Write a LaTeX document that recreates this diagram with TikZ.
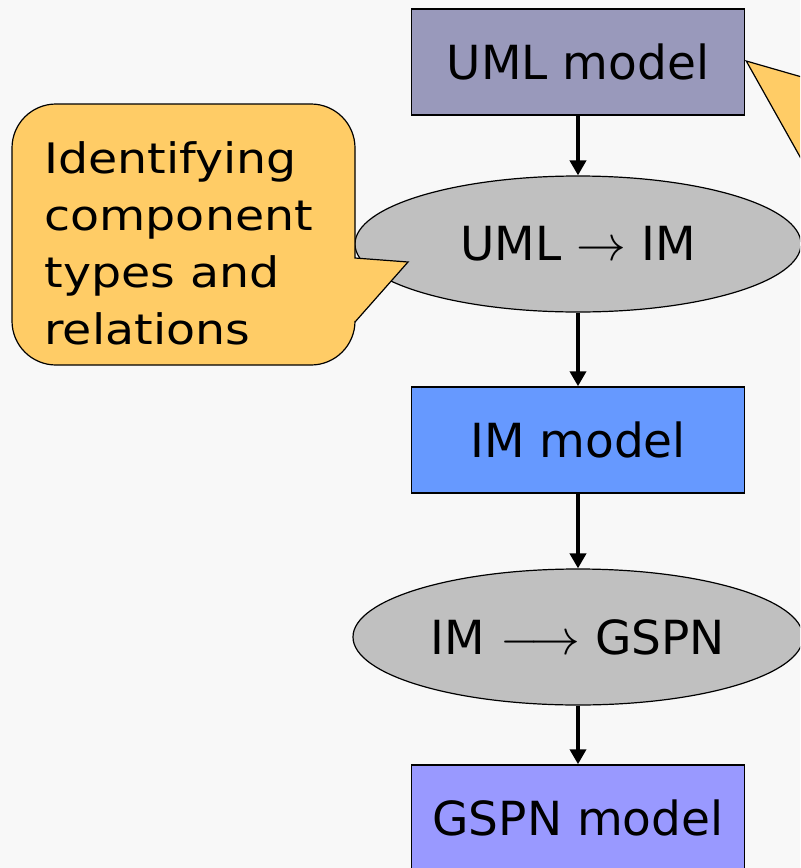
\documentclass[tikz,border=0pt]{standalone}
\usepackage{fontspec}
\setmainfont{DejaVu Sans}
\usepackage{tikz}
\usetikzlibrary{shapes.geometric,arrows.meta}

\definecolor{umlfill}{HTML}{9999BB}
\definecolor{imfill}{HTML}{6699FF}
\definecolor{gspnfill}{HTML}{9999FF}
\definecolor{stepfill}{HTML}{C0C0C0}
\definecolor{notefill}{HTML}{FFCC66}
\definecolor{bgfill}{HTML}{F8F8F8}

\tikzset{
	model/.style={draw, line width=0.75pt, minimum width=166.5pt, minimum height=53pt, font=\fontsize{23.5}{28}\selectfont},
	trans/.style={draw, ellipse, fill=stepfill, line width=0.6pt, minimum width=223pt, minimum height=68pt, inner sep=0pt, font=\fontsize{23.5}{28}\selectfont},
	flow/.style={line width=2pt, -{Triangle[length=7.5pt,width=8pt]}},
	callout/.style={draw, fill=notefill, line width=0.6pt}
}

\begin{document}
\begin{tikzpicture}[x=0.5pt,y=-0.5pt]
	\fill[bgfill] (0,0) rectangle (800,868);
	\clip (0,0) rectangle (800,868);

		\node[model, fill=umlfill] (uml) at (578,62) {UML model};
		\node[trans] (umlim) at (578,244) {UML $\rightarrow$ IM};
		\node[model, fill=imfill] (im) at (578,440) {IM model};
		\node[trans, minimum width=225pt] (imgspn) at (578,637) {IM $\longrightarrow$ GSPN};
		\node[model, fill=gspnfill] (gspn) at (578,818) {GSPN model};

	\draw[flow] (uml) -- (umlim);
	\draw[flow] (umlim) -- (im);
	\draw[flow] (im) -- (imgspn);
	\draw[flow] (imgspn) -- (gspn);

	\draw[callout] (355,258) [rounded corners=22pt] -- (355,104) -- (12,104) -- (12,365) -- (355,365) [sharp corners] -- (355,322) -- (408,262) -- cycle;
	\node[anchor=west, inner sep=0pt, align=left, xscale=1.13, transform shape, font=\fontsize{21}{28.5}\selectfont] (note) at (44,243) {Identifying\\component\\types and\\relations};

	\draw[callout] (uml.east) ++(1,-1) -- (840,88) -- (840,228) -- cycle;
\end{tikzpicture}
\end{document}
